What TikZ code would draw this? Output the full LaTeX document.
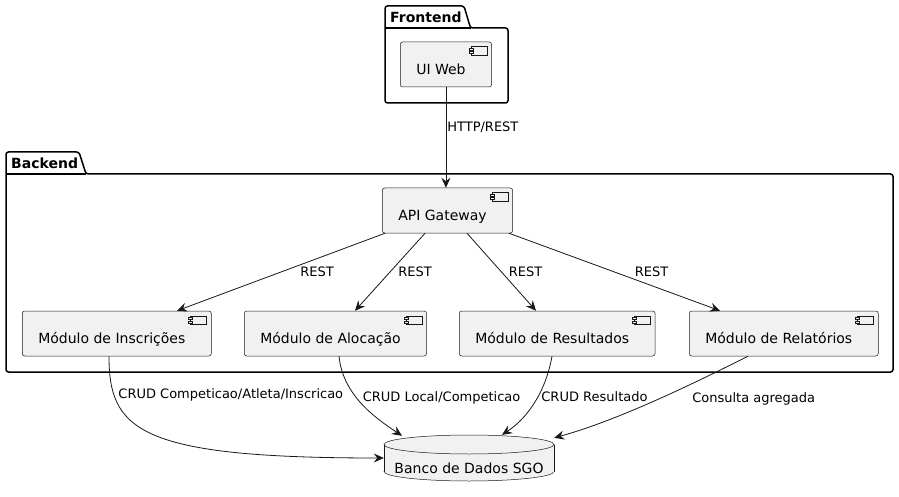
\documentclass[tikz,border=0pt]{standalone}
\usepackage{fontspec}
\setmainfont{DejaVu Sans}
\usetikzlibrary{arrows.meta}
\definecolor{boxfill}{HTML}{F1F1F1}
\definecolor{boxline}{HTML}{181818}
\tikzset{
  >={Stealth[length=10pt,width=9pt,inset=3.5pt]},
}
\tikzstyle{pkg}=[line width=1.5pt,rounded corners=2.5pt,fill=white]
\tikzstyle{comp}=[draw=boxline,fill=boxfill,line width=.5pt,rounded corners=2.5pt,anchor=west,minimum height=45pt,inner xsep=16pt,text height=20pt,text depth=0pt,execute at end node={\hspace{10pt}},font=\fontsize{14}{17}\selectfont]
\tikzstyle{icon}=[draw=boxline,fill=boxfill,line width=.5pt]
\tikzstyle{link}=[->,line width=.8pt,boxline]
\tikzstyle{lbl}=[anchor=west,inner sep=0pt,font=\fontsize{13}{16}\selectfont,black]
\tikzstyle{title}=[anchor=west,inner sep=0pt,font=\fontsize{14}{17}\selectfont\bfseries]

\begin{document}
\begin{tikzpicture}[x=1pt,y=-1pt]
    \useasboundingbox (0,0) rectangle (899,497);
    % packages
    \draw[pkg] (385,103) -- (385,6) -- (464,6) -- (470.5,28) -- (508,28) -- (508,103) -- cycle;
    \draw[line width=1.5pt] (385,28) -- (470.5,28);
    \node[title] (front) at (390,17) {Frontend};
    \draw[pkg] (6,372) -- (6,152) -- (79,152) -- (86,174) -- (893,174) -- (893,372) -- cycle;
    \draw[line width=1.5pt] (6,174) -- (86,174);
    \node[title] (back) at (11,163) {Backend};

    % components
    \node[comp] (ui) at (400,64.5) {UI Web};
    \node[comp] (api) at (382,210.5) {API Gateway};
    \node[comp] (insc) at (22,333.5) {Módulo de Inscrições};
    \node[comp] (aloc) at (244,333.5) {Módulo de Alocação};
    \node[comp] (res) at (459,333.5) {Módulo de Resultados};
    \node[comp] (rel) at (689,333.5) {Módulo de Relatórios};
    \foreach \n in {ui,api,insc,aloc,res,rel}{
      \draw[icon] ([xshift=-21pt,yshift=-5pt]\n.north east) rectangle ++(16,8.5);
      \draw[icon] ([xshift=-23pt,yshift=-6.5pt]\n.north east) rectangle ++(4,2);
      \draw[icon] ([xshift=-23pt,yshift=-10pt]\n.north east) rectangle ++(4,2);
    }

    % database
    \node[minimum width=170pt,minimum height=46pt,inner sep=0pt] (db) at (469,458) {};
    \filldraw[icon] (469,471.5) ellipse [x radius=85,y radius=9.5];
    \fill[boxfill] (384,444.5) rectangle (554,471.5);
    \draw[boxline,line width=.5pt] (384,444.5) -- (384,471.5) (554,444.5) -- (554,471.5);
    \filldraw[icon] (469,444.5) ellipse [x radius=85,y radius=9.5];
    \node[font=\fontsize{14}{17}\selectfont] (dbname) at (469,468) {Banco de Dados SGO};

    % connectors
    \draw[link] (ui.south) -- (ui.south |- api.north) node[lbl,pos=.4,xshift=1pt]{HTTP/REST};
    \draw[link] ([xshift=3pt]api.south west) -- ([xshift=155pt]insc.north west) node[lbl,midway,xshift=19pt]{REST};
    \draw[link] ([xshift=43pt]api.south west) -- ([xshift=111pt]aloc.north west) node[lbl,midway,xshift=8pt]{REST};
    \draw[link] ([xshift=85pt]api.south west) -- ([xshift=77pt]res.north west) node[lbl,midway,xshift=7pt]{REST};
    \draw[link] ([xshift=127pt]api.south west) -- ([xshift=31pt]rel.north west) node[lbl,midway,xshift=20pt]{REST};

    \draw[link] ([xshift=87pt]insc.south west) .. controls +(0,74) and +(-245,0) .. (db.west)
      node[lbl,pos=.2,xshift=4pt]{CRUD Competicao/Atleta/Inscricao};
    \draw[link] ([xshift=95pt]aloc.south west) .. controls +(4,39) and +(-27,-18) .. ([xshift=-67pt,yshift=-1pt]db.north)
      node[lbl,pos=.42,xshift=6pt]{CRUD Local/Competicao};
    \draw[link] ([xshift=93pt]res.south west) .. controls +(-7,39) and +(23,-15) .. ([xshift=33pt]db.north)
      node[lbl,pos=.4,xshift=3pt]{CRUD Resultado};
    \draw[link] ([xshift=59pt]rel.south west) .. controls +(-48,24) and +(66,-18) .. ([yshift=-3pt]db.north east)
      node[lbl,pos=.5,xshift=34pt]{Consulta agregada};
\end{tikzpicture}
\end{document}
